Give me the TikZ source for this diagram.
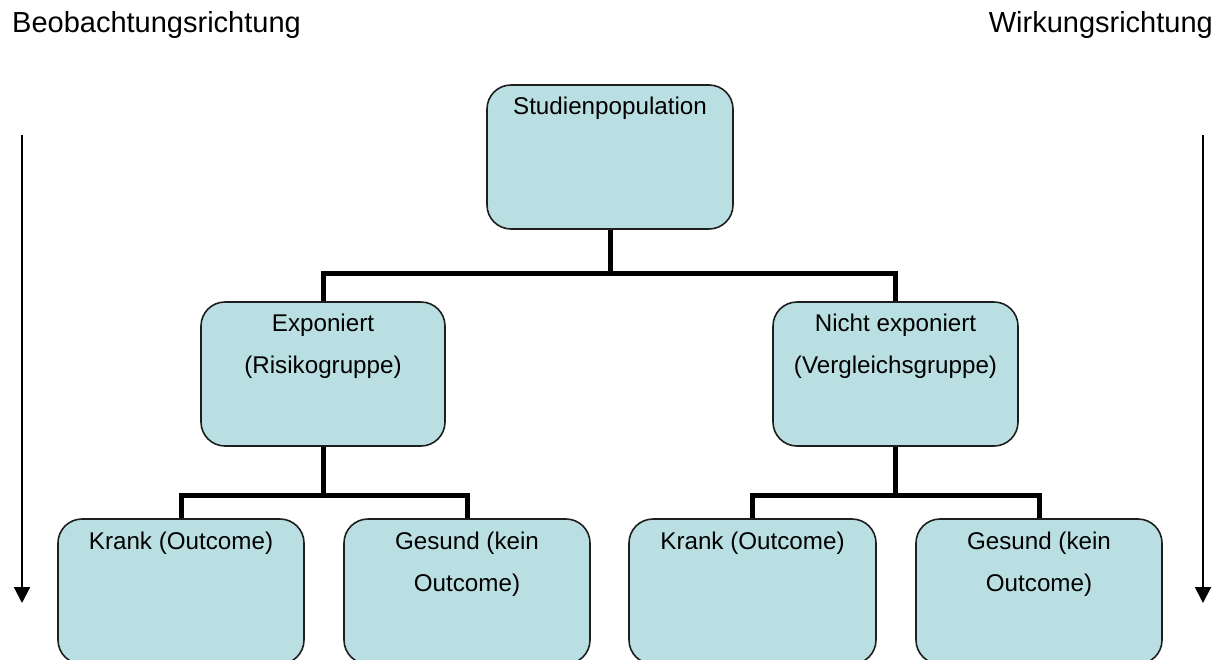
\documentclass[tikz,border=0pt]{standalone}
\usepackage{fontspec}
\setmainfont{Liberation Sans}
\usetikzlibrary{arrows.meta}
\definecolor{boxfill}{RGB}{186,223,226}
\definecolor{boxline}{RGB}{30,30,30}
\begin{document}
\begin{tikzpicture}[x=1pt,y=-1pt,
  box/.style={draw=boxline, line width=1.6pt, fill=boxfill, rounded corners=24pt, inner sep=0pt},
  lbl/.style={font=\fontsize{24.2}{42}\selectfont, align=center, inner sep=0pt, anchor=north},
  hdr/.style={font=\fontsize{29}{34}\selectfont, inner sep=0pt},
  conn/.style={line width=5pt},
  dirarrow/.style={line width=2pt, -{Triangle[length=16pt,width=16pt]}}]

\useasboundingbox (0,0) rectangle (1226,659);

% boxes
\node[box, minimum width=246pt, minimum height=144pt] (pop)  at (610,157) {};
\node[box, minimum width=244pt, minimum height=144pt] (exp)  at (323,374) {};
\node[box, minimum width=245pt, minimum height=144pt] (nexp) at (895.5,374) {};
\node[box, minimum width=246pt, minimum height=145pt] (k1) at (181,591.5) {};
\node[box, minimum width=246pt, minimum height=145pt] (g1) at (467,591.5) {};
\node[box, minimum width=247pt, minimum height=145pt] (k2) at (752.5,591.5) {};
\node[box, minimum width=246pt, minimum height=145pt] (g2) at (1039,591.5) {};

% labels
\node[lbl] (tpop)  at ([yshift=-12pt]pop.north)  {\rule{0pt}{18pt}Studienpopulation};
\node[lbl] (texp)  at ([yshift=-12pt]exp.north)  {\rule{0pt}{18pt}Exponiert\\(Risikogruppe)};
\node[lbl] (tnexp) at ([yshift=-12pt]nexp.north) {\rule{0pt}{18pt}Nicht exponiert\\(Vergleichsgruppe)};
\node[lbl] (tk1) at ([yshift=-13pt]k1.north) {\rule{0pt}{18pt}Krank (Outcome)};
\node[lbl] (tg1) at ([yshift=-13pt]g1.north) {\rule{0pt}{18pt}Gesund (kein\\Outcome)};
\node[lbl] (tk2) at ([yshift=-13pt]k2.north) {\rule{0pt}{18pt}Krank (Outcome)};
\node[lbl] (tg2) at ([yshift=-13pt]g2.north) {\rule{0pt}{18pt}Gesund (kein\\Outcome)};

% connectors
\coordinate (j1) at (610,273);
\coordinate (j2) at (323,495);
\coordinate (j3) at (895.5,495);
\draw[conn] (pop.south) -- (j1);
\draw[conn] (exp.north) -- (exp.north |- j1) -- (nexp.north |- j1) -- (nexp.north);
\draw[conn] (exp.south) -- (j2);
\draw[conn] (k1.north) -- (k1.north |- j2) -- (g1.north |- j2) -- (g1.north);
\draw[conn] (nexp.south) -- (j3);
\draw[conn] (k2.north) -- (k2.north |- j3) -- (g2.north |- j3) -- (g2.north);

% headers
\node[hdr, anchor=base west] (hb) at (12,32) {Beobachtungsrichtung};
\node[hdr, anchor=base east] (hw) at (1213,32) {Wirkungsrichtung};

% direction arrows
\coordinate (la1) at (22,135);
\coordinate (la2) at (22,603);
\coordinate (ra1) at (1203,135);
\coordinate (ra2) at (1203,603);
\draw[dirarrow] (la1) -- (la2);
\draw[dirarrow] (ra1) -- (ra2);
\end{tikzpicture}
\end{document}
